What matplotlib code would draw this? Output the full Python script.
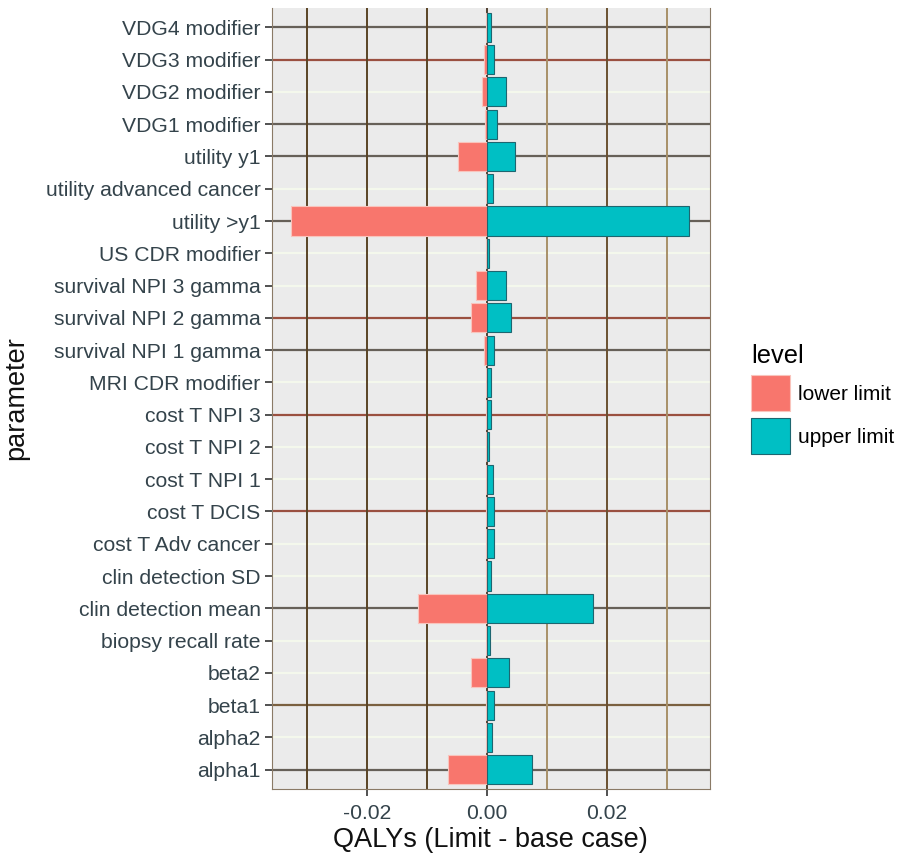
import matplotlib.pyplot as plt
import numpy as np

plt.rcParams['font.family'] = ['Liberation Sans', 'DejaVu Sans']

# parameters listed top to bottom as in the chart
parameters = ['VDG4 modifier', 'VDG3 modifier', 'VDG2 modifier', 'VDG1 modifier',
              'utility y1', 'utility advanced cancer', 'utility >y1', 'US CDR modifier',
              'survival NPI 3 gamma', 'survival NPI 2 gamma', 'survival NPI 1 gamma',
              'MRI CDR modifier', 'cost T NPI 3', 'cost T NPI 2', 'cost T NPI 1',
              'cost T DCIS', 'cost T Adv cancer', 'clin detection SD', 'clin detection mean',
              'biopsy recall rate', 'beta2', 'beta1', 'alpha2', 'alpha1']
lower_limit = [-0.0001, -0.0004, -0.0007, -0.0002, -0.0047, -0.0001, -0.0326, -0.0001,
               -0.0018, -0.0026, -0.0004, -0.0001, -0.0001, -0.0001, -0.0001, -0.0001,
               -0.0001, -0.0001, -0.0115, -0.0001, -0.0026, -0.0001, -0.0001, -0.0065]
upper_limit = [0.0008, 0.0013, 0.0032, 0.0017, 0.0047, 0.00105, 0.0337, 0.0004,
               0.0032, 0.0040, 0.0012, 0.0007, 0.0007, 0.0004, 0.00105, 0.0012,
               0.0012, 0.0007, 0.0177, 0.00055, 0.0038, 0.0012, 0.0009, 0.0076]
x_ticks = [-0.02, 0.00, 0.02]

# odd gridline colours seen in the reference rendering (top to bottom)
hcol = {'d': '#666058', 'r': '#9a5040', 'w': '#f4f8ec', 'b': '#7a6040'}
hgrid = 'drwddwdwwrdwrwwrwwdwwbwd'
vgrid = {-0.03: '#5a4425', -0.02: '#5a4425', -0.01: '#5a4425', 0.0: '#504030',
         0.01: '#a89068', 0.02: '#6a5030', 0.03: '#a89068'}

n = len(parameters)
ypos = np.arange(n)[::-1]

fig = plt.figure(figsize=(8.98, 8.61), dpi=100)
ax = fig.add_axes([0.3026, 0.0836, 0.7906 - 0.3026, 0.9907 - 0.0836])
ax.set_facecolor('#ebebeb')

for y, c in zip(ypos, hgrid):
    ax.axhline(y, color=hcol[c], lw=1.6, zorder=1)
for x, c in vgrid.items():
    ax.axvline(x, color=c, lw=1.4, zorder=1)

ax.barh(ypos, lower_limit, height=0.9, color='#f8766d', edgecolor='#f9c4bc',
        lw=0.8, zorder=2, label='lower limit')
ax.barh(ypos, upper_limit, height=0.9, color='#00bfc4', edgecolor='#1d6670',
        lw=0.8, zorder=3, label='upper limit')

ax.set_xlim(-0.03583, 0.03722)
ax.set_ylim(-0.6, n - 0.4)
ax.set_yticks(ypos)
ax.set_yticklabels(parameters)
ax.set_xticks(x_ticks)
ax.set_xticklabels([f'{v:.2f}' for v in x_ticks])
ax.tick_params(axis='both', labelsize=15.2, labelcolor='#34434b', color='#333333',
               length=5, width=1.2)
ax.tick_params(axis='x', pad=6)
ax.tick_params(axis='y', pad=3)
for s in ax.spines.values():
    s.set_color('#8a7a66')
    s.set_linewidth(0.8)
ax.spines['top'].set_visible(False)

ax.set_xlabel('QALYs (Limit - base case)', fontsize=19.5, color='#111111', labelpad=3)
ax.set_ylabel('parameter', fontsize=19.5, color='#111111', labelpad=12)

leg = ax.legend(title='level', loc='center left', bbox_to_anchor=(1.052, 0.499),
                frameon=False, fontsize=15, title_fontsize=18.4,
                handlelength=1.85, handleheight=2.3, labelspacing=0.32,
                handletextpad=0.4)
leg._legend_box.align = 'left'

fig.savefig('out.png', dpi=100)
